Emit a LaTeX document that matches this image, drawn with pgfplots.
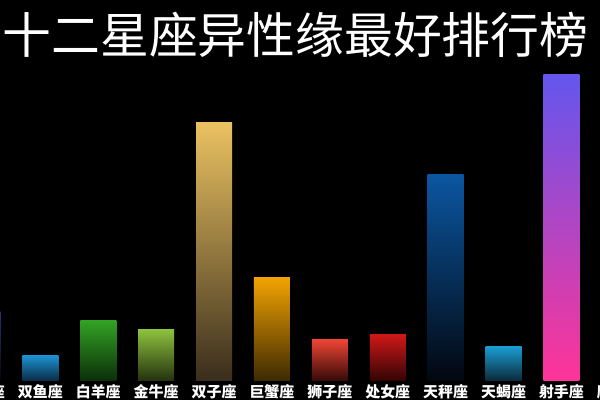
\documentclass[border=0pt]{standalone}
\usepackage{pgfplots}
\pgfplotsset{compat=1.18}
\usepackage{fontspec}
\setmainfont{Noto Sans CJK SC}

% bar colours: top / bottom of each gradient
\definecolor{sptop}{HTML}{27337A}  \definecolor{spbot}{HTML}{04060C}
\definecolor{yutop}{HTML}{1C92D2}  \definecolor{yubot}{HTML}{0A2E48}
\definecolor{yatop}{HTML}{32A224}  \definecolor{yabot}{HTML}{0C300A}
\definecolor{nitop}{HTML}{8DC23E}  \definecolor{nibot}{HTML}{26340E}
\definecolor{zitop}{HTML}{EBC262}  \definecolor{zibot}{HTML}{3A2E1C}
\definecolor{xitop}{HTML}{F2A302}  \definecolor{xibot}{HTML}{3E2A02}
\definecolor{shtop}{HTML}{EE4535}  \definecolor{shbot}{HTML}{380A08}
\definecolor{nvtop}{HTML}{CF1818}  \definecolor{nvbot}{HTML}{360404}
\definecolor{chtop}{HTML}{0B56A2}  \definecolor{chbot}{HTML}{02070F}
\definecolor{xetop}{HTML}{1A9CD2}  \definecolor{xebot}{HTML}{0A2C3C}
\definecolor{sstop}{HTML}{6456EE}  \definecolor{ssmid}{HTML}{C746C2}  \definecolor{ssbot}{HTML}{FF3498}
\definecolor{baseline}{HTML}{3C3C3C}

\begin{document}
\begin{tikzpicture}
\useasboundingbox (0,0) rectangle (600bp,400bp);
\clip (0,0) rectangle (600bp,400bp);
\fill[black] (0,0) rectangle (600bp,400bp);
\begin{axis}[
    at={(-46.5bp,20bp)}, anchor=south west,
    scale only axis, width=694.8bp, height=360bp,
    xmin=-0.5, xmax=11.5, ymin=0, ymax=360,
    axis x line=bottom, axis y line=none,
    x axis line style={baseline, line width=1pt, -},
    xtick={0,...,11}, major tick length=0pt,
    xticklabels={水瓶座,双鱼座,白羊座,金牛座,双子座,巨蟹座,狮子座,处女座,天秤座,天蝎座,射手座,摩羯座},
    xticklabel style={text=white, font=\fontsize{15}{15}\selectfont\bfseries, yshift=-0.5bp},
    title={十二星座异性缘最好排行榜},
    title style={at={(0.4922,0.943)}, anchor=center, text=white, font=\fontsize{49}{49}\selectfont},
    every axis plot/.append style={ybar, bar width=36bp, bar shift=0pt, draw=none, shading=axis},
]
\addplot[top color=sptop, bottom color=spbot] coordinates {(0,68)};
\addplot[top color=yutop, bottom color=yubot] coordinates {(1,24.5)};
\addplot[top color=yatop, bottom color=yabot] coordinates {(2,59.5)};
\addplot[top color=nitop, bottom color=nibot] coordinates {(3,50.5)};
\addplot[top color=zitop, bottom color=zibot] coordinates {(4,257.5)};
\addplot[top color=xitop, bottom color=xibot] coordinates {(5,102.5)};
\addplot[top color=shtop, bottom color=shbot] coordinates {(6,40.5)};
\addplot[top color=nvtop, bottom color=nvbot] coordinates {(7,45.5)};
\addplot[top color=chtop, bottom color=chbot] coordinates {(8,205.5)};
\addplot[top color=xetop, bottom color=xebot] coordinates {(9,33.5)};
\addplot[top color=sstop, middle color=ssmid, bottom color=ssbot] coordinates {(10,305.5)};
\end{axis}
\end{tikzpicture}
\end{document}
